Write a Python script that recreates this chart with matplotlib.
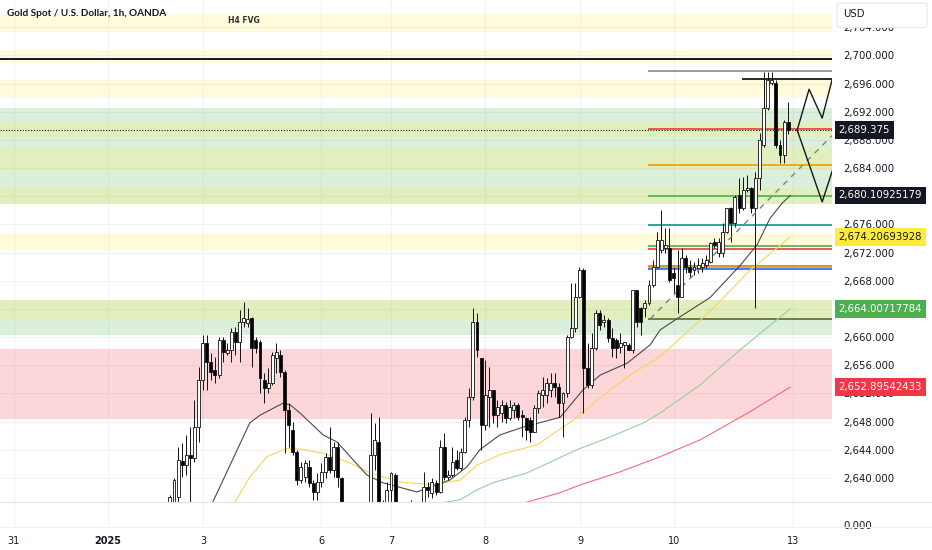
import matplotlib.pyplot as plt
import matplotlib.patches as mpatches
from matplotlib.lines import Line2D
from matplotlib.ticker import FuncFormatter
import numpy as np

# --- candles (1h) ---
opens = [2636.1, 2636.1, 2637.3, 2642.4, 2641.8, 2643.3, 2642.8, 2647.2, 2653.9, 2659.2,
         2656.5, 2655.3, 2654.6, 2659.6, 2657.7, 2658.2, 2660.7, 2659.3, 2662.1, 2662.0,
         2662.7, 2659.6, 2659.3, 2653.9, 2652.8, 2653.5, 2657.0, 2657.5, 2655.0, 2649.7,
         2646.8, 2643.7, 2639.7, 2640.1, 2641.6, 2639.3, 2638.0, 2639.4, 2640.9, 2643.0,
         2641.1, 2644.4, 2640.0, 2636.1, 2634.0, 2632.6, 2634.7, 2632.6, 2634.0, 2636.1,
         2643.3, 2645.1, 2636.1, 2636.1, 2638.3, 2640.4, 2636.1, 2634.7, 2633.3, 2635.1,
         2633.7, 2635.4, 2636.1, 2638.7, 2637.9, 2639.3, 2638.0, 2644.4, 2640.1, 2640.4,
         2642.5, 2641.4, 2643.7, 2648.2, 2651.5, 2662.1, 2657.0, 2647.5, 2651.5, 2652.5,
         2648.9, 2649.2, 2650.4, 2648.5, 2649.7, 2650.4, 2648.9, 2648.5, 2648.2, 2646.5,
         2649.9, 2651.8, 2651.8, 2652.5, 2653.5, 2652.9, 2650.6, 2652.1, 2660.0, 2661.3,
         2665.7, 2669.5, 2655.6, 2653.2, 2658.4, 2663.4, 2662.1, 2662.4, 2659.9, 2659.6,
         2658.6, 2658.9, 2658.9, 2658.2, 2666.7, 2664.1, 2664.1, 2664.8, 2667.4, 2670.0,
         2672.4, 2672.7, 2672.7, 2669.1, 2667.4, 2665.7, 2671.2, 2670.0, 2669.5, 2669.8,
         2670.0, 2670.2, 2670.7, 2673.5, 2672.0, 2672.0, 2674.9, 2678.3, 2676.2, 2680.2,
         2678.3, 2680.9, 2681.2, 2678.3, 2682.6, 2687.3, 2692.5, 2696.1, 2696.1, 2687.3,
         2685.9, 2690.6]
highs = [2637.6, 2640.0, 2644.4, 2645.0, 2646.1, 2647.2, 2651.1, 2655.8, 2660.3, 2660.3,
         2657.7, 2657.2, 2660.0, 2660.0, 2659.2, 2661.3, 2661.4, 2663.9, 2665.0, 2664.1,
         2662.9, 2660.0, 2659.6, 2654.9, 2655.6, 2657.9, 2659.2, 2658.2, 2655.3, 2650.6,
         2647.9, 2644.0, 2642.3, 2642.5, 2642.5, 2639.7, 2640.7, 2642.1, 2643.5, 2647.2,
         2645.1, 2645.1, 2640.1, 2636.4, 2634.7, 2635.4, 2635.1, 2635.9, 2636.4, 2649.2,
         2647.8, 2648.6, 2636.9, 2639.4, 2640.9, 2640.7, 2636.4, 2635.1, 2635.1, 2636.9,
         2635.9, 2636.6, 2640.9, 2639.4, 2640.0, 2639.7, 2645.4, 2646.4, 2641.1, 2644.4,
         2644.0, 2644.3, 2648.6, 2652.8, 2664.1, 2663.4, 2657.0, 2656.8, 2655.8, 2652.5,
         2651.1, 2651.1, 2650.8, 2651.1, 2650.8, 2650.6, 2649.7, 2648.6, 2648.6, 2650.4,
         2652.5, 2654.3, 2654.2, 2654.9, 2654.9, 2653.5, 2652.2, 2660.3, 2667.7, 2667.7,
         2670.0, 2669.8, 2659.2, 2660.6, 2663.9, 2663.9, 2663.1, 2662.7, 2661.3, 2659.9,
         2660.6, 2659.3, 2659.2, 2666.7, 2666.7, 2664.3, 2665.3, 2668.1, 2671.0, 2674.9,
         2678.1, 2675.5, 2675.5, 2670.0, 2672.4, 2672.7, 2671.7, 2671.0, 2670.7, 2671.2,
         2671.2, 2671.7, 2673.5, 2674.1, 2674.1, 2676.2, 2678.3, 2678.5, 2680.2, 2682.6,
         2682.7, 2683.0, 2681.3, 2683.4, 2689.0, 2697.7, 2697.7, 2697.7, 2696.5, 2688.0,
         2690.8, 2693.4]
lows = [2634.0, 2634.0, 2635.4, 2640.1, 2640.4, 2636.1, 2642.3, 2645.1, 2652.5, 2652.5,
        2653.9, 2653.5, 2654.2, 2656.5, 2657.5, 2656.5, 2657.5, 2656.5, 2661.4, 2661.4,
        2655.8, 2657.7, 2652.1, 2650.6, 2652.1, 2653.2, 2654.9, 2654.3, 2643.5, 2644.4,
        2643.3, 2639.0, 2639.3, 2639.4, 2638.7, 2636.9, 2636.9, 2638.7, 2640.0, 2640.7,
        2640.1, 2638.7, 2634.7, 2633.3, 2631.2, 2631.9, 2631.2, 2631.9, 2633.3, 2635.4,
        2641.1, 2634.7, 2634.0, 2635.4, 2635.4, 2635.4, 2634.0, 2632.6, 2632.9, 2632.9,
        2633.3, 2634.7, 2635.4, 2637.3, 2637.1, 2637.6, 2637.9, 2639.7, 2639.7, 2640.1,
        2641.1, 2641.1, 2643.5, 2647.2, 2651.1, 2657.2, 2644.0, 2646.8, 2647.2, 2647.8,
        2647.2, 2647.9, 2647.8, 2648.2, 2648.5, 2648.2, 2645.8, 2645.4, 2645.1, 2646.5,
        2649.2, 2650.1, 2650.6, 2651.5, 2651.5, 2648.6, 2645.8, 2651.5, 2659.9, 2660.7,
        2665.6, 2649.2, 2652.8, 2652.8, 2658.2, 2661.0, 2661.4, 2659.3, 2657.2, 2657.0,
        2657.7, 2655.6, 2658.2, 2657.7, 2661.4, 2660.3, 2662.9, 2664.6, 2667.1, 2669.8,
        2672.0, 2672.0, 2667.8, 2666.3, 2663.4, 2665.7, 2669.1, 2668.5, 2668.8, 2669.1,
        2669.2, 2669.8, 2670.5, 2672.7, 2671.4, 2671.4, 2674.8, 2673.5, 2675.6, 2677.6,
        2678.1, 2680.6, 2677.6, 2664.1, 2680.9, 2687.0, 2692.3, 2695.8, 2686.9, 2684.7,
        2684.7, 2688.9]
closes = [2637.3, 2639.7, 2642.5, 2641.8, 2643.3, 2642.8, 2647.2, 2653.9, 2659.2, 2656.5,
          2655.0, 2654.6, 2659.6, 2657.9, 2658.2, 2660.7, 2659.3, 2662.1, 2662.7, 2662.6,
          2658.4, 2658.4, 2654.2, 2652.8, 2653.5, 2657.5, 2657.9, 2655.0, 2649.7, 2647.5,
          2643.7, 2639.7, 2641.6, 2642.1, 2639.3, 2638.0, 2639.4, 2640.9, 2643.0, 2641.1,
          2644.4, 2640.1, 2636.6, 2634.0, 2632.6, 2634.7, 2631.9, 2635.4, 2636.1, 2643.3,
          2645.4, 2635.4, 2634.7, 2638.3, 2640.7, 2636.1, 2634.7, 2633.3, 2634.7, 2633.7,
          2635.4, 2636.1, 2638.7, 2638.3, 2639.4, 2638.0, 2644.4, 2640.1, 2640.4, 2642.3,
          2641.4, 2643.7, 2648.2, 2651.5, 2662.1, 2658.2, 2647.5, 2651.8, 2652.5, 2648.9,
          2650.1, 2650.4, 2648.5, 2650.1, 2650.4, 2648.6, 2648.6, 2646.8, 2646.5, 2649.9,
          2652.1, 2652.5, 2653.5, 2653.5, 2652.9, 2650.6, 2652.1, 2660.0, 2661.3, 2665.7,
          2669.5, 2655.6, 2653.2, 2658.4, 2663.4, 2661.7, 2662.4, 2659.9, 2658.4, 2658.4,
          2659.2, 2659.3, 2658.2, 2666.7, 2662.1, 2662.1, 2664.8, 2667.4, 2670.0, 2673.8,
          2673.8, 2673.1, 2668.1, 2668.4, 2665.7, 2671.2, 2670.0, 2669.2, 2670.0, 2670.2,
          2670.5, 2670.9, 2673.4, 2673.1, 2673.5, 2674.9, 2678.3, 2676.2, 2679.9, 2678.3,
          2680.9, 2681.2, 2678.3, 2682.6, 2688.0, 2692.5, 2696.5, 2696.5, 2687.3, 2685.9,
          2690.6, 2689.375]

# moving averages (bar index, value)
ma_dark_idx = [8, 10.5, 19.5, 22, 27.6, 29.3, 31.8, 37.4, 40.8, 48.1, 52, 60.3, 68.4, 72.6,
               75.7, 80.6, 86.2, 95.3, 100.9, 105.1, 111.7, 117.3, 119.7, 124.1, 131.9,
               139.3, 143.4, 146.6, 149.5, 151.5]
ma_dark = [2633.0, 2636.6, 2647.8, 2648.9, 2650.6, 2650.4, 2649.2, 2646.1, 2645.1, 2640.4,
           2639.3, 2638.0, 2639.7, 2641.6, 2644.0, 2646.1, 2647.2, 2648.6, 2652.5, 2654.6,
           2656.3, 2658.9, 2661.0, 2662.7, 2665.6, 2670.2, 2673.1, 2676.9, 2679.0, 2680.1]
ma_yellow_idx = [13, 15.9, 19.5, 23.7, 28.6, 31.8, 37.4, 44, 48.9, 56.2, 64.3, 70.9, 75,
                 80.6, 89.7, 98.5, 107.5, 113.1, 119.7, 132.7, 141.7, 151.5]
ma_yellow = [2633.5, 2636.6, 2640.1, 2643.0, 2644.2, 2644.1, 2643.5, 2642.1, 2640.7, 2639.4,
             2639.0, 2639.7, 2641.8, 2643.3, 2644.7, 2648.2, 2652.5, 2654.9, 2657.2, 2664.1,
             2669.5, 2674.2]
ma_green_idx = [60, 66, 70.9, 75, 78.9, 87.2, 99.4, 107.5, 115.6, 119.7, 129.5, 139.3,
                146.6, 151.5]
ma_green = [2635.2, 2636.4, 2636.9, 2638.3, 2639.3, 2640.7, 2644.0, 2645.8, 2647.8, 2649.2,
            2653.2, 2658.2, 2661.7, 2664.0]
ma_red_idx = [82, 87.5, 95.3, 100.2, 109.2, 119.7, 129.5, 141.7, 151.5]
ma_red = [2635.6, 2636.6, 2637.9, 2639.0, 2640.7, 2643.0, 2645.4, 2649.4, 2652.9]

# zones (low, high)
yellow_zones = [(2703.3, 2705.9), (2698.9, 2700.8), (2694.1, 2696.5), (2688.4, 2690.6),
                (2683.7, 2687.0), (2678.9, 2681.2), (2672.4, 2674.8), (2662.4, 2665.3)]
green_zones = [(2678.9, 2692.5), (2660.3, 2665.3)]
red_zones = [(2648.3, 2658.3)]

# drawn levels
level_start = 116.8
levels = [2697.8, 2689.6, 2684.5, 2680.1, 2675.9, 2672.9, 2672.5, 2670.1, 2669.9, 2669.6, 2662.5]
level_colors = ['#8a8a8a', '#f23645', '#ff9800', '#4caf50', '#089981', '#4caf50', '#f23645',
                '#00bcd4', '#ff9800', '#2962ff', '#5d6b2a']
top_level = 2699.5
high_level = 2696.7
high_start = 139.8
last_price = 2689.375

proj_up_x = [153.2, 156.1, 159.3, 162.5]
proj_up_y = [2689.4, 2695.2, 2691.1, 2698.3]
proj_dn_x = [153.2, 159.3, 162.5]
proj_dn_y = [2689.4, 2679.2, 2684.9]
trend_x = [117.3, 161.7]
trend_y = [2662.6, 2688.6]

tag_values = [2689.375, 2680.10925179, 2674.20693928, 2664.00717784, 2652.89542433]
tag_digits = [3, 8, 8, 8, 8]
tag_bg = ['#131722', '#131722', '#ffeb3b', '#4caf50', '#f23645']
tag_fg = ['white', 'white', '#131722', 'white', 'white']

day_labels = ['31', '2025', '3', '6', '7', '8', '9', '10', '13']
day_pos = [-38.1, -15.1, 8.1, 37.0, 54.0, 77.0, 100.2, 123.1, 152.2]
price_ticks = np.arange(2640, 2705, 4)

fig = plt.figure(figsize=(9.32, 5.5), dpi=100)
ax = fig.add_axes([0, 48 / 550, 832 / 932, 502 / 550])
ax2 = fig.add_axes([0, 22 / 550, 832 / 932, 26 / 550], sharex=ax)

ax.set_xlim(-41.5, 161.7)
ax.set_ylim(2636.57, 2707.88)

for p in price_ticks:
    ax.axhline(p, color='#f0f2f5', lw=0.8, zorder=0)
for d in day_pos:
    ax.axvline(d, color='#f0f2f5', lw=0.8, zorder=0)
    ax2.axvline(d, color='#f0f2f5', lw=0.8, zorder=0)

for lo, hi in green_zones:
    ax.axhspan(lo, hi, color=(0.30, 0.69, 0.31), alpha=0.2, lw=0, zorder=0.5)
for lo, hi in yellow_zones:
    ax.axhspan(lo, hi, color=(1.0, 0.92, 0.23), alpha=0.18, lw=0, zorder=0.6)
for lo, hi in red_zones:
    ax.axhspan(lo, hi, color=(0.95, 0.21, 0.27), alpha=0.2, lw=0, zorder=0.5)

ax.text(18, 2705.0, 'H4 FVG', ha='center', va='center', fontsize=5.5,
        fontweight='bold', color='#333333')

# levels
ax.axhline(top_level, color='#131722', lw=1.4, zorder=2)
ax.axhline(last_price, color='#131722', lw=0.8, ls=(0, (1, 1.5)), zorder=2)
ax.hlines(levels, level_start, 170, colors=level_colors, lw=1.2, zorder=2)
ax.hlines(high_level, high_start, 170, colors='#131722', lw=1.3, zorder=2)

# moving averages
ax.plot(ma_red_idx, ma_red, color='#f06b86', lw=0.8, zorder=2)
ax.plot(ma_green_idx, ma_green, color='#93d199', lw=0.8, zorder=2)
ax.plot(ma_yellow_idx, ma_yellow, color='#f4d65a', lw=0.8, zorder=2)
ax.plot(ma_dark_idx, ma_dark, color='#4a4a4a', lw=0.8, zorder=2)

# candles
o = np.array(opens)
h = np.array(highs)
l = np.array(lows)
c = np.array(closes)
idx = np.arange(len(o))
up = c >= o
ax.vlines(idx, l, h, color='#111111', lw=0.7, zorder=3)
ax.bar(idx, np.maximum(np.abs(c - o), 0.15), bottom=np.minimum(o, c), width=0.72,
       color=np.where(up, 'white', 'black'), edgecolor='#111111', linewidth=0.6, zorder=4)

# projection
ax.plot(trend_x, trend_y, color='#808080', lw=1.0, ls=(0, (4, 4)), zorder=3)
ax.plot(proj_up_x, proj_up_y, color='#131722', lw=1.0, zorder=3)
ax.plot(proj_dn_x, proj_dn_y, color='#131722', lw=1.0, zorder=3)

# right price scale
ax.yaxis.tick_right()
ax.set_yticks(price_ticks)
ax.yaxis.set_major_formatter(FuncFormatter(lambda v, pos: f'{v:,.3f}'))
ax.tick_params(axis='y', length=0, pad=8, labelsize=7.3, labelcolor='#131722')
ax.tick_params(axis='x', bottom=False, labelbottom=False)
for s in ax.spines.values():
    s.set_visible(False)

for v, n, bg, fg in zip(tag_values, tag_digits, tag_bg, tag_fg):
    ax.text(1.008, v, f'{v:,.{n}f}', transform=ax.get_yaxis_transform(), ha='left',
            va='center', fontsize=7.3, color=fg, zorder=10, clip_on=False,
            bbox=dict(boxstyle='square,pad=0.38', fc=bg, ec='none'))

# lower pane + time axis
ax2.set_ylim(0, 1)
ax2.yaxis.tick_right()
ax2.set_yticks([0.12])
ax2.set_yticklabels(['0.000'])
ax2.set_xticks(day_pos)
ax2.set_xticklabels(day_labels)
ax2.tick_params(axis='y', length=0, pad=8, labelsize=7.3, labelcolor='#131722')
ax2.tick_params(axis='x', length=0, pad=6, labelsize=7.0, labelcolor='#131722')
for lbl in ax2.get_xticklabels():
    if lbl.get_text() == '2025':
        lbl.set_fontweight('bold')
for s in ax2.spines.values():
    s.set_visible(False)

fig.add_artist(Line2D([0, 1], [48 / 550, 48 / 550], transform=fig.transFigure,
                      color='#e0e3eb', lw=0.8))
fig.add_artist(Line2D([0, 1], [23 / 550, 23 / 550], transform=fig.transFigure,
                      color='#eef0f3', lw=0.8))

fig.text(7 / 932, 1 - 13 / 550, 'Gold Spot / U.S. Dollar, 1h, OANDA', family='Lato',
         fontweight='bold', fontsize=7.2, color='#131722', va='center', ha='left')

usd_box = mpatches.FancyBboxPatch((837 / 932, 1 - 27.5 / 550), 90 / 932, 24.5 / 550,
                                  boxstyle='round,pad=0,rounding_size=0.004',
                                  transform=fig.transFigure, fc='white', ec='#e6e8ee',
                                  lw=0.8, zorder=5)
fig.add_artist(usd_box)
fig.text(843 / 932, 1 - 14 / 550, 'USD', fontsize=7.3, color='#131722', va='center',
         ha='left', zorder=6)

fig.savefig('out.png', dpi=100)
